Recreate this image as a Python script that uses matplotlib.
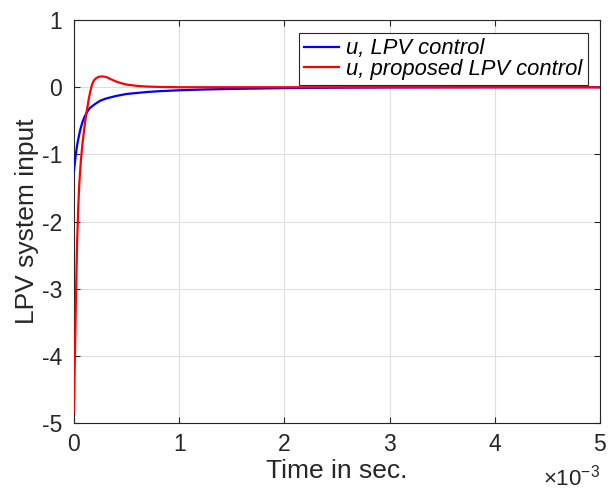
import numpy as np
import matplotlib.pyplot as plt

plt.rcParams['font.family'] = ['Liberation Sans', 'DejaVu Sans']
plt.rcParams['mathtext.fontset'] = 'custom'
plt.rcParams['mathtext.rm'] = 'Liberation Sans'

# time in ms (axis shows x10^-3 s)
t_red = [0, 0.005, 0.01, 0.015, 0.02, 0.03, 0.04, 0.05, 0.065, 0.08, 0.095,
         0.11, 0.125, 0.14, 0.155, 0.17, 0.185, 0.2, 0.22, 0.25, 0.28, 0.31,
         0.35, 0.4, 0.45, 0.5, 0.6, 0.7, 0.8, 1.0, 1.5, 2.0, 3.0, 4.0, 5.0]
u_proposed = [-4.83, -4.3, -3.9, -3.45, -3.0, -2.3, -1.8, -1.45, -1.1, -0.85, -0.65,
              -0.47, -0.32, -0.18, -0.06, 0.03, 0.09, 0.12, 0.145, 0.16, 0.16, 0.15,
              0.12, 0.085, 0.06, 0.04, 0.02, 0.01, 0.005, 0.0, 0.0, 0.0, 0.0, 0.0, 0.0]

t_blue = [0, 0.01, 0.02, 0.03, 0.045, 0.06, 0.08, 0.1, 0.12, 0.15, 0.2, 0.25,
          0.3, 0.4, 0.5, 0.6, 0.7, 0.8, 1.0, 1.25, 1.5, 2.0, 2.5, 3.0, 4.0, 5.0]
u_lpv = [-1.24, -1.1, -0.97, -0.86, -0.74, -0.63, -0.52, -0.44, -0.38, -0.31, -0.25, -0.2,
         -0.17, -0.13, -0.1, -0.085, -0.07, -0.06, -0.045, -0.033, -0.025, -0.013, -0.007, -0.003, 0.0, 0.0]

xticks = [0, 1, 2, 3, 4, 5]
yticks = [-5, -4, -3, -2, -1, 0, 1]

fig = plt.figure(figsize=(6.09, 4.9), dpi=100)
ax = fig.add_axes([0.1215, 0.1367, 0.8635, 0.8223])

ax.plot(t_blue, u_lpv, color=(0, 0, 1), lw=1.6, label='u, LPV control', zorder=3)
ax.plot(t_red, u_proposed, color=(1, 0, 0), lw=1.6, label='u, proposed LPV control', zorder=3)

ax.set_xlim(0, 5)
ax.set_ylim(-5, 1)
ax.set_xticks(xticks)
ax.set_yticks(yticks)
ax.set_xticklabels([str(v) for v in xticks])
ax.set_yticklabels([str(v) for v in yticks])
ax.grid(True, color='#dedede', lw=0.8)
ax.set_axisbelow(True)
ax.tick_params(direction='in', length=4, width=0.8, labelsize=16.5, colors='#262626',
               top=True, right=True)
ax.tick_params(axis='x', pad=7.5)
ax.tick_params(axis='y', pad=8.5)
for s in ax.spines.values():
    s.set_color('#262626')
    s.set_linewidth(0.8)

ax.set_xlabel('Time in sec.', fontsize=19, color='#262626', labelpad=2)
ax.set_ylabel('LPV system input', fontsize=19, color='#262626', labelpad=2)
# x scale multiplier under the right end of the axis
ax.text(1.0, -0.154, '×10$^{-3}$', transform=ax.transAxes, ha='right', va='baseline',
        fontsize=16, color='#262626')

leg = ax.legend(loc='upper right', bbox_to_anchor=(0.977, 0.9685),
                prop={'style': 'italic', 'size': 15.8}, frameon=True, fancybox=False,
                handlelength=1.6, handletextpad=0.3, borderpad=0.25, labelspacing=-0.03,
                borderaxespad=0)
leg.get_frame().set_edgecolor('#262626')
leg.get_frame().set_linewidth(0.8)
leg.get_frame().set_alpha(1)

fig.savefig('out.png', dpi=100)
